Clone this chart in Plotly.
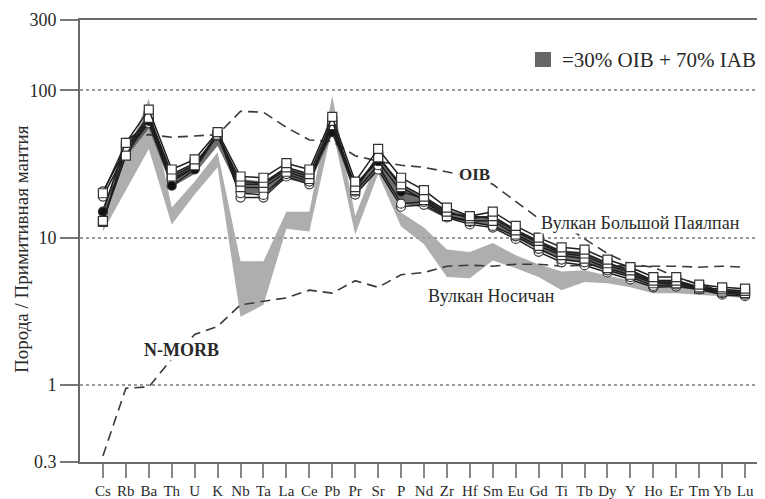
import plotly.graph_objects as go

elements = ["Cs", "Rb", "Ba", "Th", "U", "K", "Nb", "Ta", "La", "Ce", "Pb", "Pr", "Sr", "P",
            "Nd", "Zr", "Hf", "Sm", "Eu", "Gd", "Ti", "Tb", "Dy", "Y", "Ho", "Er", "Tm", "Yb", "Lu"]

oib = [12, 48, 50, 48, 49, 50, 72, 71, 56, 46, 45, 36, 33, 31,
       30, 28, 26, 23, 17.5, 13.5, 12.5, 9.8, 7.8, 6.6, 6.3, 5.4, 4.8, 4.4, 4.1]
nmorb = [0.33, 0.95, 0.97, 1.5, 2.2, 2.5, 3.5, 3.7, 3.9, 4.4, 4.2, 5.1, 4.6, 5.6,
         5.8, 6.4, 6.5, 6.4, 6.6, 6.6, 6.4, 6.5, 6.5, 6.4, 6.4, 6.4, 6.3, 6.4, 6.3]

# Вулкан Носичан envelope (light grey)
nos_upper = [14, 35, 88, 16, 24, 38, 6.9, 6.9, 15, 15, 92, 14, 35, 14.8,
             11.7, 8.3, 8.0, 9.2, 7.6, 6.6, 5.9, 6.0, 5.5, 5.1, 4.7, 4.6, 4.5, 4.35, 4.25]
nos_lower = [11, 21, 40, 12.3, 19.6, 30, 2.9, 3.5, 11.5, 11, 55, 10.5, 27, 11.9,
             9.0, 5.4, 5.3, 7.0, 6.2, 5.4, 4.4, 5.0, 4.9, 4.6, 4.2, 4.2, 4.1, 4.0, 3.9]

# 30% OIB + 70% IAB model envelope (dark grey)
mix_upper = [16, 42, 68, 27, 32, 50, 25, 24, 30, 27, 62, 23, 35, 23,
             19, 15.5, 14, 14, 11.5, 9.6, 8.2, 8.0, 6.8, 6.1, 5.2, 5.2, 4.7, 4.5, 4.4]
mix_lower = [13, 35, 55, 22, 27, 42, 20, 20, 25, 23, 50, 20, 29, 17,
             16, 13.5, 12.5, 12, 10, 8.3, 7.0, 6.8, 6.0, 5.4, 4.7, 4.7, 4.45, 4.2, 4.1]

# Вулкан Большой Паялпан samples
sample_sq1 = [20, 44, 74, 29, 34, 52, 26, 25.5, 32, 29, 66, 24, 40, 25.5,
              21, 16, 14, 15, 12, 10, 8.6, 8.3, 7.1, 6.3, 5.4, 5.4, 4.8, 4.6, 4.5]
sample_sq2 = [13, 36, 65, 26, 31, 50, 24, 23.5, 30, 27, 62, 22, 35, 23,
              19, 15, 13.5, 14, 11.2, 9.5, 8.0, 7.8, 6.7, 6.0, 5.1, 5.1, 4.6, 4.45, 4.35]
sample_sq3 = [12.8, 40, 68, 27, 32, 49, 22, 21.8, 28, 25, 58, 21, 36, 22,
              18, 14, 13, 13, 10.5, 8.8, 7.6, 7.2, 6.2, 5.6, 4.9, 4.9, 4.5, 4.3, 4.2]
sample_fc = [15, 44, 62, 22.5, 29, 50, 23, 23, 29, 26, 52, 23, 33, 20.5,
             18.5, 14.5, 14, 13.5, 11, 9.2, 7.8, 7.5, 6.5, 5.8, 5.0, 5.0, 4.55, 4.35, 4.25]
sample_oc1 = [20.6, 40, 62, 25, 30, 52, 18.7, 18.7, 26, 23, 60, 19.6, 29, 16.2,
              16.7, 13.7, 12.3, 11.7, 9.8, 8.0, 6.8, 6.5, 5.8, 5.2, 4.6, 4.65, 4.45, 4.1, 4.0]
sample_oc2 = [19, 38, 60, 24, 30, 51, 20, 19.5, 27, 24, 57, 20.5, 31, 17,
              17.5, 14, 12.8, 12, 10.2, 8.4, 7.1, 6.8, 6.0, 5.4, 4.7, 4.8, 4.5, 4.2, 4.1]

x = list(range(len(elements)))
fig = go.Figure()

def band(upper, lower, color):
    fig.add_trace(go.Scatter(x=x + x[::-1], y=upper + lower[::-1], fill="toself",
                             fillcolor=color, line=dict(width=0), mode="lines",
                             hoverinfo="skip", showlegend=False))

band(nos_upper, nos_lower, "rgba(160,160,160,0.85)")
band(mix_upper, mix_lower, "rgba(85,85,85,0.85)")

for ref in (oib, nmorb):
    fig.add_trace(go.Scatter(x=x, y=ref, mode="lines",
                             line=dict(color="#3a3a3a", width=1.6, dash="10px,6px"),
                             showlegend=False))

samples = [
    (sample_oc1, "circle", "white"),
    (sample_oc2, "circle", "white"),
    (sample_fc, "circle", "#111"),
    (sample_sq3, "square", "white"),
    (sample_sq2, "square", "white"),
    (sample_sq1, "square", "white"),
]
for vals, sym, fc in samples:
    fig.add_trace(go.Scatter(x=x, y=vals, mode="lines+markers",
                             line=dict(color="#1e1e1e", width=1.5),
                             marker=dict(symbol=sym, size=9, color=fc,
                                         line=dict(color="#333", width=1.2)),
                             showlegend=False))

serif = "Liberation Serif"
# plot area in page pixels: x 80..765, y 20..462
X0, W, YB, H = 80, 685, 462, 442
def px(xp): return (xp - X0) / W
def py(yp): return (YB - yp) / H

fig.add_shape(type="rect", xref="paper", yref="paper",
              x0=px(535), x1=px(551), y0=py(67), y1=py(52),
              fillcolor="#666", line=dict(width=0))
anns = [
    dict(text="=30% OIB + 70% IAB", x=px(561), y=py(60), xanchor="left", size=21, angle=0, bg=None),
    dict(text="<b>OIB</b>", x=px(474), y=py(174), xanchor="center", size=17, angle=0, bg="white"),
    dict(text="Вулкан Большой Паялпан", x=px(640), y=py(223), xanchor="center", size=18, angle=0, bg="white"),
    dict(text="Вулкан Носичан", x=px(491), y=py(296), xanchor="center", size=18, angle=0, bg=None),
    dict(text="<b>N-MORB</b>", x=px(181), y=py(350), xanchor="center", size=18, angle=0, bg="white"),
    dict(text="Порода / Примитивная мантия", x=px(22), y=py(249), xanchor="center", size=19, angle=-90, bg=None),
]
for a in anns:
    fig.add_annotation(text=a["text"], x=a["x"], y=a["y"], xref="paper", yref="paper",
                       xanchor=a["xanchor"], yanchor="middle", showarrow=False,
                       textangle=a["angle"], bgcolor=a["bg"], borderpad=0,
                       font=dict(family=serif, size=a["size"], color="#2a2a2a"))

# page has an 8px body margin, so the figure is shifted by 8px right and down
fig.update_layout(
    width=757, height=491,
    margin=dict(l=72, r=0, t=12, b=37, autoexpand=False),
    paper_bgcolor="white", plot_bgcolor="white",
    font=dict(family=serif, color="#2a2a2a"),
)
fig.update_xaxes(range=[-1.0, 28.87], tickmode="array", tickvals=x, ticktext=elements,
                 tickangle=0, automargin=False,
                 showgrid=False, zeroline=False, showline=True, linecolor="#6a6a6a",
                 linewidth=2, mirror=True, ticks="outside", ticklen=14, tickwidth=1.5,
                 tickcolor="#888", tickfont=dict(family=serif, size=15, color="#2a2a2a"))
fig.update_yaxes(type="log", range=[-0.5229, 2.4771], tickmode="array",
                 tickvals=[0.3, 1, 10, 100, 300], ticktext=["0.3", "1", "10", "100", "300"],
                 automargin=False,
                 showgrid=True, gridcolor="#9a9a9a", griddash="dot", gridwidth=1.5,
                 zeroline=False, showline=True, linecolor="#6a6a6a", linewidth=2,
                 ticks="outside", ticklen=18, tickwidth=1.5, tickcolor="#777",
                 tickfont=dict(family=serif, size=18, color="#2a2a2a"))

fig.write_html("out.html")
